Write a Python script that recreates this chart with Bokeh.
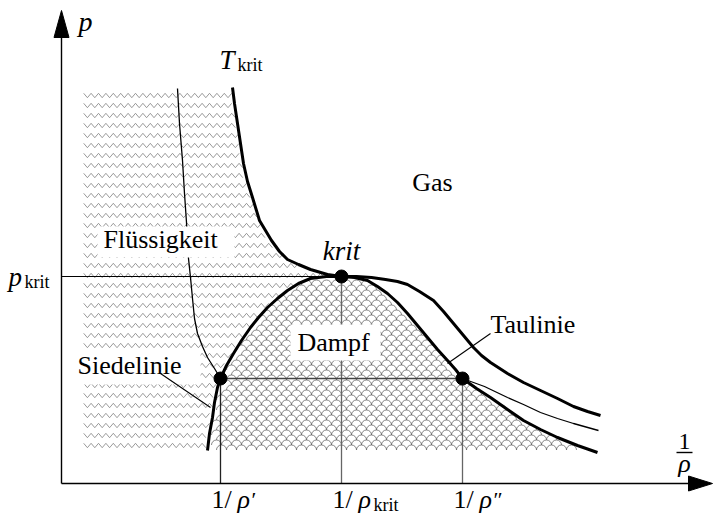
import numpy as np
from bokeh.plotting import figure
from bokeh.models import Range1d, Label
from bokeh.embed import file_html
from bokeh.resources import INLINE

# ---- p-(1/rho) diagram of a real fluid, drawing units (origin at the axes' corner)

# critical isotherm T_krit
tk_v = [171, 173, 176, 179, 182, 186, 191, 198, 204, 210, 218, 226, 237, 249, 266, 280,
        295, 310, 324, 336, 346, 358, 372, 382, 392, 402, 412, 420, 429, 446, 462, 479,
        496, 512, 526, 539]
tk_p = [396, 380, 360, 340, 320, 302, 286, 263, 253, 243, 232, 224, 219, 214, 209, 207,
        207, 206, 204, 202, 199, 192, 183, 172, 160, 148, 136, 128, 121, 110, 101, 93,
        85, 77, 72, 68]

# subcritical isotherm: liquid branch, then vapour branch
liq_v = [116, 118, 121, 123, 125, 127, 129, 131, 133, 136, 141, 146, 153, 159]
liq_p = [395, 360, 323, 290, 261, 225, 206, 185, 165, 150, 137, 126, 115, 105]
vap_v = [401, 423, 446, 462, 479, 496, 512, 537]
vap_p = [105, 97, 86, 79, 71, 65, 60, 53]

# coexistence curve (Siedelinie left of the critical point, Taulinie right of it)
dome_v = [146, 148, 151, 153, 156, 159, 165, 172, 180, 189, 197, 206, 216, 226, 237, 249,
          265, 280, 293, 306, 316, 326, 336, 346, 356, 366, 376, 386, 394, 401, 415, 429,
          446, 462, 479, 496, 516, 536]
dome_p = [33, 50, 66, 81, 96, 105, 118, 130, 143, 156, 166, 176, 185, 193, 200, 205,
          207, 207, 206, 203, 197, 190, 181, 170, 158, 146, 134, 123, 114, 105, 95, 86,
          74, 63, 54, 46, 38, 31]

# saturated liquid, critical point, saturated vapour
sat_v = [159, 280, 401]
sat_p = [105, 207, 105]
tick_sub = ["\u2032", "krit", "\u2033"]

liquid_left, liquid_top, liquid_floor = 19, 393, 35
x_end, y_end = 651, 473

FONT = "'Liberation Serif', 'DejaVu Serif', serif"
TXT_DY = 8  # lift of label baselines

p = figure(width=713, height=515, output_backend="svg", toolbar_location=None,
           x_range=Range1d(-61, 652), y_range=Range1d(-32, 483),
           x_axis_type=None, y_axis_type=None, min_border=0,
           outline_line_color=None, background_fill_color="white",
           border_fill_color="white")
p.grid.visible = False


def spans(px, py, y):
    """x-intervals where the horizontal line at height y lies inside polygon (px, py)."""
    xs = []
    n = len(px)
    for i in range(n):
        x1, y1 = px[i], py[i]
        x2, y2 = px[(i + 1) % n], py[(i + 1) % n]
        if (y1 <= y < y2) or (y2 <= y < y1):
            xs.append(x1 + (y - y1) * (x2 - x1) / (y2 - y1))
    xs.sort()
    return list(zip(xs[0::2], xs[1::2]))


# liquid region: left of T_krit and of the Siedelinie -> zigzag hatching
crit_i = tk_v.index(sat_v[1])
dcrit_i = dome_v.index(sat_v[1])
reg_x = [liquid_left] + tk_v[:crit_i + 1] + dome_v[:dcrit_i][::-1] + [liquid_left]
reg_y = [liquid_top] + tk_p[:crit_i + 1] + dome_p[:dcrit_i][::-1] + [liquid_floor]

zig_xs, zig_ys = [], []
half, amp = 3.7, 2.2
for y_row in np.arange(liquid_floor + 3, liquid_top, 10.0):
    for xa, xb in spans(reg_x, reg_y, y_row):
        k = np.arange(np.ceil(xa / half), np.floor(xb / half) + 1)
        if len(k) < 2:
            continue
        zig_xs.append(list(k * half))
        zig_ys.append(list(y_row + np.where(k % 2 == 0, amp, -amp)))
p.multi_line(zig_xs, zig_ys, line_color="#808080", line_width=0.8)

# wet-steam region under the coexistence curve -> scale hatching
sc_x, sc_y = [], []
r_sc = 5.0
for j, y_c in enumerate(np.arange(33.5, max(dome_p), r_sc)):
    shift = r_sc if j % 2 else 0.0
    low = spans(dome_v, dome_p, y_c)
    high = spans(dome_v, dome_p, y_c + 4)
    for xa, xb in low:
        cx = np.arange(np.ceil((xa + r_sc - shift) / (2 * r_sc)) * 2 * r_sc + shift, xb - r_sc + 1e-9, 2 * r_sc)
        for c in cx:
            if any(ha <= c <= hb for ha, hb in high):
                sc_x.append(c)
                sc_y.append(y_c)
p.arc(sc_x, sc_y, radius=r_sc, start_angle=0, end_angle=np.pi,
      line_color="#606060", line_width=0.75)

# p_krit level and the three 1/rho drop lines
p.line([0, sat_v[1]], [sat_p[1], sat_p[1]], line_color="black", line_width=1.1)
p.segment(x0=sat_v, y0=[0, 0, 0], x1=sat_v, y1=sat_p,
          line_color=["#222222", "#666666", "#666666"], line_width=1.3)
# tie line
p.line([sat_v[0], sat_v[2]], [sat_p[0], sat_p[2]], line_color="#444444", line_width=1.6)

# subcritical isotherm
p.line(liq_v, liq_p, line_color="black", line_width=1.3, line_join="round")
p.line(vap_v, vap_p, line_color="black", line_width=1.3, line_join="round")

# critical isotherm and coexistence curve
p.line(tk_v, tk_p, line_color="black", line_width=3, line_join="round")
p.line(dome_v, dome_p, line_color="black", line_width=3, line_join="round")

# white boxes behind the region names
p.quad(left=[36, 229, 5], right=[173, 319, 139], bottom=[226, 123, 99], top=[257, 159, 131],
       fill_color="white", line_color=None)

# leaders
p.segment(x0=[99, 429], y0=[110, 150], x1=[149, 386], y1=[76, 120],
          line_color="black", line_width=1.1)

p.scatter(sat_v, sat_p, size=13, fill_color="black", line_color="black")

# axes with filled arrowheads
p.line([0, x_end - 22], [0, 0], line_color="black", line_width=1.4)
p.line([0, 0], [0, y_end - 24], line_color="black", line_width=1.4)
p.patch([x_end, x_end - 24, x_end - 24], [0, 7.5, -7.5], fill_color="black", line_color="black")
p.patch([0, 7.5, -7.5], [y_end, y_end - 27, y_end - 27], fill_color="black", line_color="black")


def put(x, y, text, size, style="normal", align="left"):
    p.add_layout(Label(x=x, y=y + TXT_DY, text=text, text_font=FONT,
                       text_font_size=f"{size}px", text_font_style=style,
                       text_align=align, text_baseline="alphabetic", text_color="black"))


put(17, 454, "p", 28, "italic")
put(158, 416, "T", 27, "italic")
put(176, 411, "krit", 18)
put(-53, 199, "p", 27, "italic")
put(-37, 194, "krit", 18)
put(sat_v[1], 225, "krit", 27, "italic", "center")
put(371, 293, "Gas", 26, align="center")
put(42, 236, "Flüssigkeit", 26)
put(272, 133, "Dampf", 26, align="center")
put(16, 110, "Siedelinie", 26)
put(429, 151, "Taulinie", 26)

# 1/rho axis title as a fraction
put(623, 34, "1", 24, align="center")
p.line([615, 631], [31, 31], line_color="black", line_width=1.4)
put(623, 12, "\u03c1", 26, "italic", align="center")

# tick labels under the three drop lines
for v, sub in zip(sat_v, tick_sub):
    put(v - 9, -24, "1/", 26)
    put(v + 17, -24, "\u03c1", 26, "italic")
    if sub == "krit":
        put(v + 32, -29, sub, 18)
    else:
        put(v + 31, -24, sub, 22)

open("out.html", "w").write(file_html(p, INLINE))
